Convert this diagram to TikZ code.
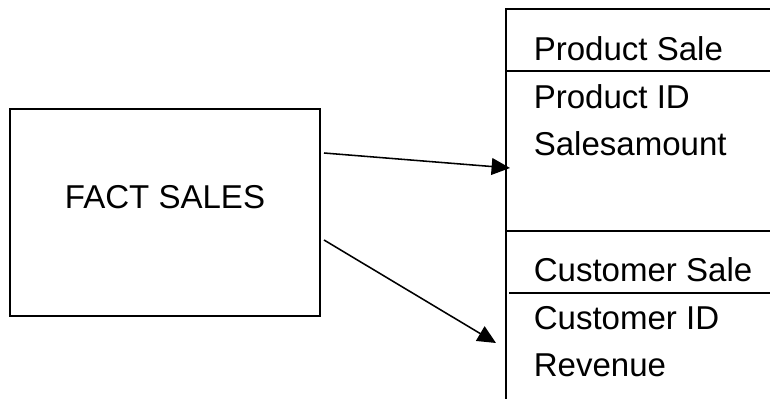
\documentclass[tikz,border=0pt]{standalone}
\usepackage{fontspec}
\setmainfont{Liberation Sans}
\usetikzlibrary{arrows.meta}
\begin{document}
\begin{tikzpicture}[>={Triangle[length=4.6mm,width=4.2mm]},line width=1.1pt,
  field/.style={anchor=base west,inner sep=0pt,font=\fontsize{23.5}{28}\selectfont}]
\useasboundingbox (0,0) rectangle (19.25,9.95);
\clip (0,0) rectangle (19.25,9.95);
% fact table
\node[draw,minimum width=7.75cm,minimum height=5.175cm] (fact) at (4.125,4.6375) {};
\node[field,anchor=base] (factname) at (4.125,4.75) {FACT SALES};

% dimension tables
\draw (19.5,9.725)--(12.65,9.725)--(12.65,-0.5);
\draw (12.65,8.175)--(19.5,8.175);
\draw (12.65,4.175)--(19.5,4.175);
\draw (12.725,2.625)--(19.5,2.625);
\node[field] (prodsale) at (13.325,8.45) {Product Sale};
\node[field] (prodid) at (13.325,7.25) {Product ID};
\node[field] (salesamt) at (13.325,6.075) {Salesamount};
\node[field] (custsale) at (13.325,2.91) {Customer Sale};
\node[field] (custid) at (13.325,1.725) {Customer ID};
\node[field] (revenue) at (13.325,0.535) {Revenue};

\coordinate (out1) at (8.1,6.125); \coordinate (in1) at (12.75,5.75);
\coordinate (out2) at (8.1,3.95); \coordinate (in2) at (12.4,1.375);
\draw[->] (out1)--(in1); \draw[->] (out2)--(in2);
\end{tikzpicture}
\end{document}
